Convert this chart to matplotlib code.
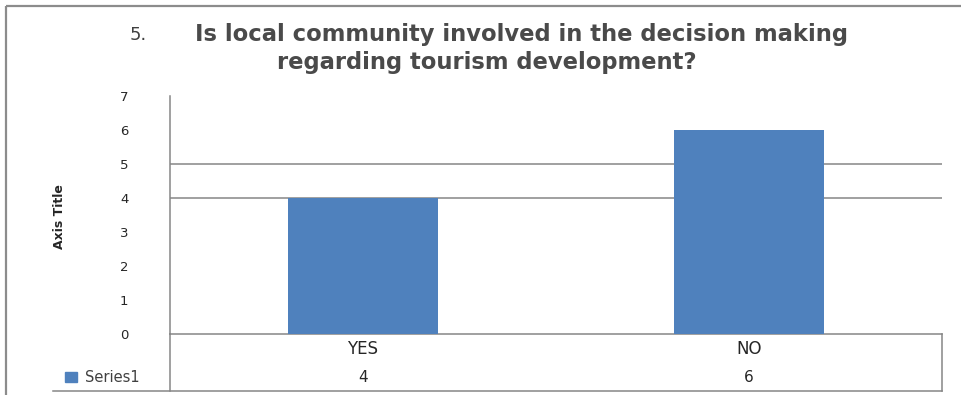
import numpy as np
import matplotlib

matplotlib.use("Agg")
import matplotlib.pyplot as plt
from matplotlib.patches import Rectangle
from matplotlib.transforms import blended_transform_factory

# survey answers
categories = ["YES", "NO"]
counts = [4, 6]
series_name = "Series1"
y_ticks = [0, 1, 2, 3, 4, 5, 6, 7]
grid_levels = [4, 5]
title_num = "5."
title_line1 = "Is local community involved in the decision making"
title_line2 = "regarding tourism development?"

W, H = 962, 395
BAR = "#4F81BD"
LINE = "#868686"
TXT = "#262626"

plt.rcParams["font.family"] = ["DejaVu Sans"]

fig = plt.figure(figsize=(W / 100, H / 100), dpi=100)

# pixel-space canvas for frame, data table and legend key
canvas = fig.add_axes([0, 0, 1, 1])
canvas.set_xlim(0, W)
canvas.set_ylim(H, 0)
canvas.axis("off")

# chart frame (runs off the right and bottom edge)
canvas.add_patch(Rectangle((6, 6), W + 20, H + 20, fill=False,
                           edgecolor="#8c8c8c", linewidth=1.6))

# plot area
x0, x1, ytop, ybot = 170, 942, 96, 334
ax = fig.add_axes([x0 / W, (H - ybot) / H, (x1 - x0) / W, (ybot - ytop) / H])
ax.set_xlim(-0.5, len(categories) - 0.5)
ax.set_ylim(0, 7)
x = np.arange(len(categories))
ax.bar(x, counts, width=0.39, color=BAR, zorder=2)
for g in grid_levels:
    ax.axhline(g, color=LINE, linewidth=1.1, zorder=1)
for side in ("top", "right", "bottom"):
    ax.spines[side].set_visible(False)
ax.spines["left"].set_color(LINE)
ax.spines["left"].set_linewidth(1.1)
ax.set_xticks([])
ax.set_yticks(y_ticks)
ax.tick_params(axis="y", length=0, pad=30, labelsize=9.5, labelcolor=TXT)
ax.patch.set_alpha(0)

# data table below the axis
ybot_tab = 391
canvas.plot([x0, x1], [ybot, ybot], color=LINE, linewidth=1.1)
canvas.plot([53, x1], [ybot_tab, ybot_tab], color=LINE, linewidth=1.1)
canvas.plot([x0, x0], [ybot, ybot_tab], color=LINE, linewidth=1.1)
canvas.plot([x1, x1], [ybot, ybot_tab], color=LINE, linewidth=1.1)

tr = blended_transform_factory(ax.transData, canvas.transData)
for xi, cat, val in zip(x, categories, counts):
    canvas.text(xi, 349, cat, transform=tr, ha="center", va="center",
                fontsize=12, color=TXT)
    canvas.text(xi, 377, str(val), transform=tr, ha="center", va="center",
                fontsize=11, color=TXT)

canvas.add_patch(Rectangle((65, 372), 12, 10, color=BAR))
canvas.text(85, 377, series_name, ha="left", va="center",
            fontsize=10.5, color="#404040")

# axis title
canvas.text(60, 217, "Axis Title", rotation=90, ha="center", va="center",
            fontsize=9, fontweight="bold", color=TXT)

# chart title
canvas.text(130, 35, title_num, ha="left", va="center",
            fontsize=13, color="#404040")
canvas.text(195, 35, title_line1, ha="left", va="center",
            fontsize=16.3, fontweight="bold", color="#4a4a4a")
canvas.text(277, 62, title_line2, ha="left", va="center",
            fontsize=16.3, fontweight="bold", color="#4a4a4a")

fig.savefig("out.png", dpi=100)
